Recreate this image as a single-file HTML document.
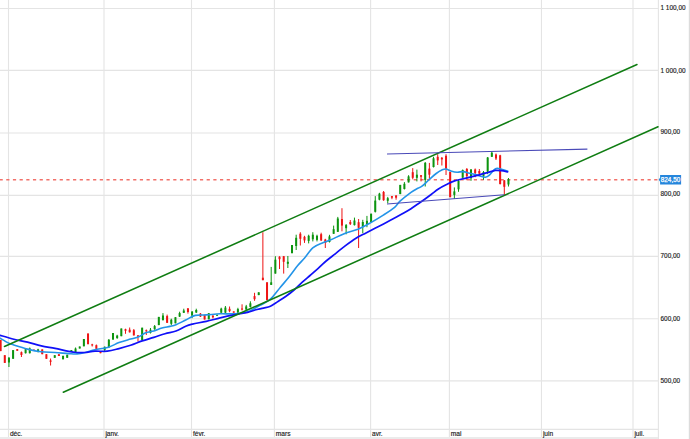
<!DOCTYPE html>
<html><head><meta charset="utf-8"><style>
html,body{margin:0;padding:0;background:#fff;}
svg{display:block;}
.ax{font-family:"Liberation Sans",sans-serif;font-size:6.6px;fill:#1a1a1a;stroke:#1a1a1a;stroke-width:0.15px;}
.ay{font-family:"Liberation Sans",sans-serif;font-size:6.45px;fill:#1a1a1a;stroke:#1a1a1a;stroke-width:0.15px;}
.pl{font-family:"Liberation Sans",sans-serif;font-size:6.6px;fill:#fff;stroke:#fff;stroke-width:0.25px;}
</style></head><body>
<svg width="690" height="439" viewBox="0 0 690 439">
<line x1="0" y1="8.5" x2="658" y2="8.5" stroke="#e4e4e4" stroke-width="1.1"/>
<line x1="0" y1="70.4" x2="658" y2="70.4" stroke="#e4e4e4" stroke-width="1.1"/>
<line x1="0" y1="133.0" x2="658" y2="133.0" stroke="#e4e4e4" stroke-width="1.1"/>
<line x1="0" y1="195.4" x2="658" y2="195.4" stroke="#e4e4e4" stroke-width="1.1"/>
<line x1="0" y1="256.4" x2="658" y2="256.4" stroke="#e4e4e4" stroke-width="1.1"/>
<line x1="0" y1="318.7" x2="658" y2="318.7" stroke="#e4e4e4" stroke-width="1.1"/>
<line x1="0" y1="380.9" x2="658" y2="380.9" stroke="#e4e4e4" stroke-width="1.1"/>
<line x1="8.5" y1="0" x2="8.5" y2="437" stroke="#e4e4e4" stroke-width="1.1"/>
<line x1="104.0" y1="0" x2="104.0" y2="437" stroke="#e4e4e4" stroke-width="1.1"/>
<line x1="191.5" y1="0" x2="191.5" y2="437" stroke="#e4e4e4" stroke-width="1.1"/>
<line x1="274.4" y1="0" x2="274.4" y2="437" stroke="#e4e4e4" stroke-width="1.1"/>
<line x1="370.6" y1="0" x2="370.6" y2="437" stroke="#e4e4e4" stroke-width="1.1"/>
<line x1="449.4" y1="0" x2="449.4" y2="437" stroke="#e4e4e4" stroke-width="1.1"/>
<line x1="541.45" y1="0" x2="541.45" y2="437" stroke="#e4e4e4" stroke-width="1.1"/>
<line x1="633.0" y1="0" x2="633.0" y2="437" stroke="#e4e4e4" stroke-width="1.1"/>
<line x1="658.4" y1="0" x2="658.4" y2="439" stroke="#e4e4e4" stroke-width="1.1"/>
<line x1="0" y1="429.4" x2="658" y2="429.4" stroke="#e4e4e4" stroke-width="1.1"/>
<rect x="0" y="437" width="658" height="2" fill="#ebebeb"/>
<line x1="689.4" y1="0" x2="689.4" y2="439" stroke="#dcdcdc" stroke-width="1.2"/>
<line x1="0" y1="179.7" x2="658" y2="179.7" stroke="#f2716a" stroke-width="1.45" stroke-dasharray="3.2 3.48" stroke-dashoffset="0.44"/>
<rect x="0.11" y="339.90" width="1" height="11.20" fill="#ee1414"/>
<rect x="-0.39" y="339.90" width="2" height="11.20" fill="#ee1414"/>
<rect x="4.27" y="355.20" width="1" height="7.70" fill="#ee1414"/>
<rect x="3.77" y="355.20" width="2" height="7.70" fill="#ee1414"/>
<rect x="8.44" y="357.00" width="1" height="10.00" fill="#0c940f"/>
<rect x="7.94" y="357.80" width="2" height="4.70" fill="#0c940f"/>
<rect x="12.60" y="350.10" width="1" height="8.70" fill="#0c940f"/>
<rect x="12.10" y="350.10" width="2" height="8.70" fill="#0c940f"/>
<rect x="16.76" y="349.10" width="1" height="1.70" fill="#ee1414"/>
<rect x="16.26" y="349.10" width="2" height="1.70" fill="#ee1414"/>
<rect x="20.93" y="351.50" width="1" height="5.50" fill="#ee1414"/>
<rect x="20.43" y="352.20" width="2" height="2.80" fill="#ee1414"/>
<rect x="25.09" y="348.50" width="1" height="5.00" fill="#0c940f"/>
<rect x="24.59" y="349.20" width="2" height="4.00" fill="#0c940f"/>
<rect x="29.25" y="347.50" width="1" height="6.00" fill="#0c940f"/>
<rect x="28.75" y="348.40" width="2" height="4.80" fill="#0c940f"/>
<rect x="33.41" y="349.60" width="1" height="1.40" fill="#ee1414"/>
<rect x="32.91" y="349.60" width="2" height="1.40" fill="#ee1414"/>
<rect x="37.58" y="348.80" width="1" height="3.60" fill="#0c940f"/>
<rect x="37.08" y="349.40" width="2" height="2.20" fill="#0c940f"/>
<rect x="41.74" y="349.40" width="1" height="4.80" fill="#ee1414"/>
<rect x="41.24" y="349.40" width="2" height="4.80" fill="#ee1414"/>
<rect x="45.90" y="354.20" width="1" height="4.60" fill="#ee1414"/>
<rect x="45.40" y="354.20" width="2" height="4.60" fill="#ee1414"/>
<rect x="50.07" y="358.50" width="1" height="7.00" fill="#ee1414"/>
<rect x="49.57" y="360.40" width="2" height="1.40" fill="#ee1414"/>
<rect x="54.23" y="355.20" width="1" height="2.60" fill="#0c940f"/>
<rect x="53.73" y="355.20" width="2" height="2.60" fill="#0c940f"/>
<rect x="58.39" y="354.20" width="1" height="1.80" fill="#ee1414"/>
<rect x="57.89" y="354.20" width="2" height="1.80" fill="#ee1414"/>
<rect x="62.55" y="355.80" width="1" height="3.50" fill="#0c940f"/>
<rect x="62.05" y="355.80" width="2" height="3.50" fill="#0c940f"/>
<rect x="66.72" y="354.70" width="1" height="3.10" fill="#0c940f"/>
<rect x="66.22" y="354.70" width="2" height="3.10" fill="#0c940f"/>
<rect x="70.88" y="350.10" width="1" height="1.80" fill="#0c940f"/>
<rect x="70.38" y="350.10" width="2" height="1.80" fill="#0c940f"/>
<rect x="75.04" y="347.50" width="1" height="5.00" fill="#0c940f"/>
<rect x="74.54" y="348.50" width="2" height="3.70" fill="#0c940f"/>
<rect x="79.21" y="346.50" width="1" height="2.00" fill="#0c940f"/>
<rect x="78.71" y="346.50" width="2" height="2.00" fill="#0c940f"/>
<rect x="83.37" y="339.00" width="1" height="7.30" fill="#0c940f"/>
<rect x="82.87" y="339.00" width="2" height="7.30" fill="#0c940f"/>
<rect x="87.53" y="333.50" width="1" height="10.70" fill="#ee1414"/>
<rect x="87.03" y="333.50" width="2" height="10.70" fill="#ee1414"/>
<rect x="91.69" y="343.80" width="1" height="2.70" fill="#ee1414"/>
<rect x="91.19" y="344.40" width="2" height="1.00" fill="#ee1414"/>
<rect x="95.86" y="344.50" width="1" height="4.80" fill="#ee1414"/>
<rect x="95.36" y="345.20" width="2" height="3.60" fill="#ee1414"/>
<rect x="100.02" y="351.90" width="1" height="1.30" fill="#ee1414"/>
<rect x="99.52" y="351.90" width="2" height="1.30" fill="#ee1414"/>
<rect x="104.18" y="346.50" width="1" height="4.50" fill="#0c940f"/>
<rect x="103.68" y="346.80" width="2" height="3.10" fill="#0c940f"/>
<rect x="108.34" y="339.00" width="1" height="8.80" fill="#0c940f"/>
<rect x="107.84" y="339.80" width="2" height="7.50" fill="#0c940f"/>
<rect x="112.51" y="333.00" width="1" height="6.60" fill="#0c940f"/>
<rect x="112.01" y="333.00" width="2" height="6.60" fill="#0c940f"/>
<rect x="116.67" y="334.80" width="1" height="4.00" fill="#0c940f"/>
<rect x="116.17" y="335.60" width="2" height="2.50" fill="#0c940f"/>
<rect x="120.83" y="328.50" width="1" height="7.70" fill="#0c940f"/>
<rect x="120.33" y="328.50" width="2" height="7.70" fill="#0c940f"/>
<rect x="125.00" y="328.70" width="1" height="5.10" fill="#ee1414"/>
<rect x="124.50" y="329.20" width="2" height="1.60" fill="#ee1414"/>
<rect x="129.16" y="327.50" width="1" height="5.00" fill="#ee1414"/>
<rect x="128.66" y="329.70" width="2" height="2.60" fill="#ee1414"/>
<rect x="133.32" y="329.00" width="1" height="6.50" fill="#ee1414"/>
<rect x="132.82" y="330.20" width="2" height="5.20" fill="#ee1414"/>
<rect x="137.48" y="335.00" width="1" height="6.50" fill="#ee1414"/>
<rect x="136.98" y="335.40" width="2" height="1.50" fill="#ee1414"/>
<rect x="141.65" y="327.70" width="1" height="12.30" fill="#0c940f"/>
<rect x="141.15" y="327.70" width="2" height="12.30" fill="#0c940f"/>
<rect x="145.81" y="329.50" width="1" height="5.50" fill="#ee1414"/>
<rect x="145.31" y="330.20" width="2" height="1.10" fill="#ee1414"/>
<rect x="149.97" y="328.00" width="1" height="5.50" fill="#0c940f"/>
<rect x="149.47" y="329.70" width="2" height="3.10" fill="#0c940f"/>
<rect x="154.14" y="325.00" width="1" height="4.80" fill="#0c940f"/>
<rect x="153.64" y="326.10" width="2" height="3.10" fill="#0c940f"/>
<rect x="158.30" y="316.90" width="1" height="8.20" fill="#0c940f"/>
<rect x="157.80" y="316.90" width="2" height="8.20" fill="#0c940f"/>
<rect x="162.46" y="313.10" width="1" height="7.40" fill="#0c940f"/>
<rect x="161.96" y="315.50" width="2" height="4.60" fill="#0c940f"/>
<rect x="166.62" y="314.60" width="1" height="8.40" fill="#ee1414"/>
<rect x="166.12" y="316.10" width="2" height="6.70" fill="#ee1414"/>
<rect x="170.79" y="318.70" width="1" height="6.70" fill="#0c940f"/>
<rect x="170.29" y="319.70" width="2" height="4.10" fill="#0c940f"/>
<rect x="174.95" y="317.20" width="1" height="6.10" fill="#0c940f"/>
<rect x="174.45" y="317.20" width="2" height="6.10" fill="#0c940f"/>
<rect x="179.11" y="311.70" width="1" height="5.30" fill="#0c940f"/>
<rect x="178.61" y="313.10" width="2" height="3.50" fill="#0c940f"/>
<rect x="183.28" y="308.70" width="1" height="4.30" fill="#0c940f"/>
<rect x="182.78" y="310.50" width="2" height="2.30" fill="#0c940f"/>
<rect x="187.44" y="308.00" width="1" height="5.60" fill="#ee1414"/>
<rect x="186.94" y="308.40" width="2" height="3.60" fill="#ee1414"/>
<rect x="191.60" y="311.00" width="1" height="7.20" fill="#0c940f"/>
<rect x="191.10" y="311.70" width="2" height="3.90" fill="#0c940f"/>
<rect x="195.76" y="308.70" width="1" height="4.30" fill="#0c940f"/>
<rect x="195.26" y="310.00" width="2" height="2.50" fill="#0c940f"/>
<rect x="199.93" y="313.00" width="1" height="4.00" fill="#ee1414"/>
<rect x="199.43" y="313.60" width="2" height="3.00" fill="#ee1414"/>
<rect x="204.09" y="314.90" width="1" height="4.60" fill="#ee1414"/>
<rect x="203.59" y="314.90" width="2" height="4.60" fill="#ee1414"/>
<rect x="208.25" y="313.20" width="1" height="6.10" fill="#0c940f"/>
<rect x="207.75" y="313.20" width="2" height="6.10" fill="#0c940f"/>
<rect x="212.41" y="315.00" width="1" height="3.50" fill="#ee1414"/>
<rect x="211.91" y="315.80" width="2" height="1.50" fill="#ee1414"/>
<rect x="216.58" y="314.70" width="1" height="1.10" fill="#0c940f"/>
<rect x="216.08" y="314.70" width="2" height="1.10" fill="#0c940f"/>
<rect x="220.74" y="307.70" width="1" height="5.30" fill="#0c940f"/>
<rect x="220.24" y="308.60" width="2" height="4.10" fill="#0c940f"/>
<rect x="224.90" y="306.00" width="1" height="7.00" fill="#0c940f"/>
<rect x="224.40" y="307.60" width="2" height="5.10" fill="#0c940f"/>
<rect x="229.07" y="306.50" width="1" height="5.70" fill="#ee1414"/>
<rect x="228.57" y="308.80" width="2" height="2.30" fill="#ee1414"/>
<rect x="233.23" y="311.40" width="1" height="1.30" fill="#ee1414"/>
<rect x="232.73" y="311.40" width="2" height="1.30" fill="#ee1414"/>
<rect x="237.39" y="307.80" width="1" height="5.20" fill="#0c940f"/>
<rect x="236.89" y="309.10" width="2" height="3.40" fill="#0c940f"/>
<rect x="241.55" y="304.30" width="1" height="6.20" fill="#ee1414"/>
<rect x="241.05" y="308.50" width="2" height="1.10" fill="#ee1414"/>
<rect x="245.72" y="304.90" width="1" height="5.10" fill="#0c940f"/>
<rect x="245.22" y="306.40" width="2" height="3.10" fill="#0c940f"/>
<rect x="249.88" y="301.30" width="1" height="6.20" fill="#0c940f"/>
<rect x="249.38" y="303.30" width="2" height="3.60" fill="#0c940f"/>
<rect x="254.04" y="292.80" width="1" height="8.00" fill="#ee1414"/>
<rect x="253.54" y="296.10" width="2" height="3.10" fill="#ee1414"/>
<rect x="258.21" y="292.30" width="1" height="2.80" fill="#0c940f"/>
<rect x="257.71" y="292.30" width="2" height="2.80" fill="#0c940f"/>
<rect x="262.37" y="232.20" width="1" height="48.00" fill="#ee1414"/>
<rect x="261.87" y="277.70" width="2" height="2.50" fill="#ee1414"/>
<rect x="266.53" y="282.30" width="1" height="17.90" fill="#ee1414"/>
<rect x="266.03" y="282.30" width="2" height="17.90" fill="#ee1414"/>
<rect x="270.69" y="266.90" width="1" height="18.00" fill="#0c940f"/>
<rect x="270.19" y="282.30" width="2" height="2.60" fill="#0c940f"/>
<rect x="274.86" y="256.20" width="1" height="17.40" fill="#0c940f"/>
<rect x="274.36" y="259.70" width="2" height="13.90" fill="#0c940f"/>
<rect x="279.02" y="256.20" width="1" height="12.80" fill="#ee1414"/>
<rect x="278.52" y="256.70" width="2" height="2.50" fill="#ee1414"/>
<rect x="283.18" y="256.00" width="1" height="17.60" fill="#ee1414"/>
<rect x="282.68" y="256.20" width="2" height="5.60" fill="#ee1414"/>
<rect x="287.35" y="256.00" width="1" height="12.00" fill="#0c940f"/>
<rect x="286.85" y="261.80" width="2" height="2.00" fill="#0c940f"/>
<rect x="291.51" y="245.00" width="1" height="8.20" fill="#0c940f"/>
<rect x="291.01" y="245.00" width="2" height="8.20" fill="#0c940f"/>
<rect x="295.67" y="234.70" width="1" height="15.30" fill="#0c940f"/>
<rect x="295.17" y="237.80" width="2" height="8.20" fill="#0c940f"/>
<rect x="299.83" y="232.20" width="1" height="13.30" fill="#ee1414"/>
<rect x="299.33" y="233.70" width="2" height="5.10" fill="#ee1414"/>
<rect x="304.00" y="235.80" width="1" height="7.10" fill="#ee1414"/>
<rect x="303.50" y="236.80" width="2" height="3.60" fill="#ee1414"/>
<rect x="308.16" y="234.70" width="1" height="8.70" fill="#0c940f"/>
<rect x="307.66" y="235.80" width="2" height="5.10" fill="#0c940f"/>
<rect x="312.32" y="232.20" width="1" height="9.20" fill="#0c940f"/>
<rect x="311.82" y="234.70" width="2" height="4.60" fill="#0c940f"/>
<rect x="316.48" y="234.70" width="1" height="6.70" fill="#0c940f"/>
<rect x="315.98" y="235.80" width="2" height="4.10" fill="#0c940f"/>
<rect x="320.65" y="232.70" width="1" height="8.30" fill="#ee1414"/>
<rect x="320.15" y="234.20" width="2" height="6.20" fill="#ee1414"/>
<rect x="324.81" y="238.80" width="1" height="9.20" fill="#ee1414"/>
<rect x="324.31" y="239.50" width="2" height="3.50" fill="#ee1414"/>
<rect x="328.97" y="234.80" width="1" height="7.70" fill="#0c940f"/>
<rect x="328.47" y="236.40" width="2" height="5.60" fill="#0c940f"/>
<rect x="333.14" y="225.60" width="1" height="8.40" fill="#0c940f"/>
<rect x="332.64" y="229.20" width="2" height="4.60" fill="#0c940f"/>
<rect x="337.30" y="216.90" width="1" height="15.10" fill="#0c940f"/>
<rect x="336.80" y="218.50" width="2" height="13.30" fill="#0c940f"/>
<rect x="341.46" y="208.20" width="1" height="23.10" fill="#ee1414"/>
<rect x="340.96" y="219.00" width="2" height="6.60" fill="#ee1414"/>
<rect x="345.62" y="224.00" width="1" height="10.30" fill="#0c940f"/>
<rect x="345.12" y="225.10" width="2" height="3.10" fill="#0c940f"/>
<rect x="349.79" y="220.00" width="1" height="5.00" fill="#ee1414"/>
<rect x="349.29" y="222.00" width="2" height="2.10" fill="#ee1414"/>
<rect x="353.95" y="217.60" width="1" height="7.90" fill="#0c940f"/>
<rect x="353.45" y="220.50" width="2" height="4.60" fill="#0c940f"/>
<rect x="358.11" y="219.00" width="1" height="29.00" fill="#ee1414"/>
<rect x="357.61" y="222.20" width="2" height="5.60" fill="#ee1414"/>
<rect x="362.28" y="219.80" width="1" height="13.40" fill="#0c940f"/>
<rect x="361.78" y="222.00" width="2" height="4.80" fill="#0c940f"/>
<rect x="366.44" y="215.90" width="1" height="11.30" fill="#0c940f"/>
<rect x="365.94" y="220.80" width="2" height="3.40" fill="#0c940f"/>
<rect x="370.60" y="213.50" width="1" height="9.00" fill="#0c940f"/>
<rect x="370.10" y="213.80" width="2" height="8.20" fill="#0c940f"/>
<rect x="374.76" y="196.10" width="1" height="16.40" fill="#0c940f"/>
<rect x="374.26" y="200.60" width="2" height="11.20" fill="#0c940f"/>
<rect x="378.93" y="192.80" width="1" height="7.50" fill="#0c940f"/>
<rect x="378.43" y="193.60" width="2" height="6.10" fill="#0c940f"/>
<rect x="383.09" y="191.00" width="1" height="9.80" fill="#ee1414"/>
<rect x="382.59" y="192.00" width="2" height="8.20" fill="#ee1414"/>
<rect x="387.25" y="196.90" width="1" height="6.40" fill="#0c940f"/>
<rect x="386.75" y="198.20" width="2" height="2.60" fill="#0c940f"/>
<rect x="391.42" y="196.00" width="1" height="3.20" fill="#ee1414"/>
<rect x="390.92" y="196.10" width="2" height="1.60" fill="#ee1414"/>
<rect x="395.58" y="195.00" width="1" height="4.70" fill="#ee1414"/>
<rect x="395.08" y="195.60" width="2" height="2.10" fill="#ee1414"/>
<rect x="399.74" y="184.90" width="1" height="9.20" fill="#0c940f"/>
<rect x="399.24" y="184.90" width="2" height="9.20" fill="#0c940f"/>
<rect x="403.90" y="182.10" width="1" height="7.40" fill="#0c940f"/>
<rect x="403.40" y="183.80" width="2" height="5.20" fill="#0c940f"/>
<rect x="408.07" y="175.20" width="1" height="7.30" fill="#0c940f"/>
<rect x="407.57" y="176.40" width="2" height="6.00" fill="#0c940f"/>
<rect x="412.23" y="168.10" width="1" height="11.20" fill="#ee1414"/>
<rect x="411.73" y="172.20" width="2" height="5.60" fill="#ee1414"/>
<rect x="416.39" y="169.60" width="1" height="11.80" fill="#0c940f"/>
<rect x="415.89" y="174.70" width="2" height="3.10" fill="#0c940f"/>
<rect x="420.55" y="175.00" width="1" height="6.40" fill="#ee1414"/>
<rect x="420.05" y="175.20" width="2" height="1.60" fill="#ee1414"/>
<rect x="424.72" y="162.00" width="1" height="24.50" fill="#0c940f"/>
<rect x="424.22" y="162.90" width="2" height="17.00" fill="#0c940f"/>
<rect x="428.88" y="162.90" width="1" height="15.90" fill="#ee1414"/>
<rect x="428.38" y="168.60" width="2" height="6.10" fill="#ee1414"/>
<rect x="433.04" y="156.80" width="1" height="10.70" fill="#0c940f"/>
<rect x="432.54" y="158.30" width="2" height="8.70" fill="#0c940f"/>
<rect x="437.21" y="154.20" width="1" height="10.80" fill="#ee1414"/>
<rect x="436.71" y="156.80" width="2" height="3.60" fill="#ee1414"/>
<rect x="441.37" y="157.00" width="1" height="8.50" fill="#ee1414"/>
<rect x="440.87" y="157.80" width="2" height="1.60" fill="#ee1414"/>
<rect x="445.53" y="154.20" width="1" height="20.80" fill="#ee1414"/>
<rect x="445.03" y="155.80" width="2" height="12.80" fill="#ee1414"/>
<rect x="449.69" y="172.00" width="1" height="25.20" fill="#ee1414"/>
<rect x="449.19" y="172.00" width="2" height="25.20" fill="#ee1414"/>
<rect x="453.86" y="187.40" width="1" height="11.60" fill="#0c940f"/>
<rect x="453.36" y="191.40" width="2" height="3.50" fill="#0c940f"/>
<rect x="458.02" y="180.00" width="1" height="11.80" fill="#0c940f"/>
<rect x="457.52" y="181.00" width="2" height="8.30" fill="#0c940f"/>
<rect x="462.18" y="169.50" width="1" height="8.30" fill="#0c940f"/>
<rect x="461.68" y="170.00" width="2" height="7.70" fill="#0c940f"/>
<rect x="466.35" y="168.00" width="1" height="12.20" fill="#ee1414"/>
<rect x="465.85" y="169.00" width="2" height="7.10" fill="#ee1414"/>
<rect x="470.51" y="169.00" width="1" height="11.80" fill="#0c940f"/>
<rect x="470.01" y="169.50" width="2" height="8.70" fill="#0c940f"/>
<rect x="474.67" y="168.50" width="1" height="8.70" fill="#ee1414"/>
<rect x="474.17" y="169.50" width="2" height="3.60" fill="#ee1414"/>
<rect x="478.83" y="169.00" width="1" height="6.60" fill="#ee1414"/>
<rect x="478.33" y="171.00" width="2" height="2.60" fill="#ee1414"/>
<rect x="483.00" y="171.00" width="1" height="8.80" fill="#0c940f"/>
<rect x="482.50" y="172.10" width="2" height="4.30" fill="#0c940f"/>
<rect x="487.16" y="157.00" width="1" height="17.10" fill="#0c940f"/>
<rect x="486.66" y="157.50" width="2" height="14.30" fill="#0c940f"/>
<rect x="491.32" y="151.20" width="1" height="5.80" fill="#0c940f"/>
<rect x="490.82" y="152.70" width="2" height="4.10" fill="#0c940f"/>
<rect x="495.49" y="153.50" width="1" height="6.50" fill="#ee1414"/>
<rect x="494.99" y="154.50" width="2" height="4.00" fill="#ee1414"/>
<rect x="499.65" y="154.80" width="1" height="29.70" fill="#ee1414"/>
<rect x="499.15" y="155.30" width="2" height="28.70" fill="#ee1414"/>
<rect x="503.81" y="180.00" width="1" height="14.90" fill="#ee1414"/>
<rect x="503.31" y="180.40" width="2" height="6.40" fill="#ee1414"/>
<rect x="507.97" y="178.00" width="1" height="8.50" fill="#0c940f"/>
<rect x="507.47" y="179.30" width="2" height="5.20" fill="#0c940f"/>
<path d="M0.00 338.10 C1.38 338.90 6.00 341.75 8.30 342.90 C10.60 344.05 10.60 343.97 13.80 345.00 C17.00 346.03 22.92 347.97 27.50 349.10 C32.08 350.23 36.70 351.23 41.30 351.80 C45.90 352.37 50.52 352.20 55.10 352.50 C59.68 352.80 65.13 353.37 68.80 353.60 C72.47 353.83 74.33 354.08 77.10 353.90 C79.87 353.72 82.42 353.18 85.40 352.50 C88.38 351.82 91.13 350.68 95.00 349.80 C98.87 348.92 104.60 348.40 108.60 347.20 C112.60 346.00 115.33 343.95 119.00 342.60 C122.67 341.25 127.32 340.07 130.60 339.10 C133.88 338.13 136.18 337.85 138.70 336.80 C141.22 335.75 143.18 333.77 145.70 332.80 C148.22 331.83 151.10 331.78 153.80 331.00 C156.50 330.22 159.20 328.87 161.90 328.10 C164.60 327.33 167.65 326.95 170.00 326.40 C172.35 325.85 173.38 325.87 176.00 324.80 C178.62 323.73 182.48 321.57 185.70 320.00 C188.92 318.43 191.87 316.25 195.30 315.40 C198.73 314.55 202.17 315.17 206.30 314.90 C210.43 314.63 215.52 313.98 220.10 313.80 C224.68 313.62 229.22 314.15 233.80 313.80 C238.38 313.45 243.23 313.12 247.60 311.70 C251.97 310.28 256.20 307.38 260.00 305.30 C263.80 303.22 266.97 302.25 270.40 299.20 C273.83 296.15 277.47 290.73 280.60 287.00 C283.73 283.27 286.35 280.37 289.20 276.80 C292.05 273.23 295.13 268.73 297.70 265.60 C300.27 262.47 302.03 260.98 304.60 258.00 C307.17 255.02 309.97 250.27 313.10 247.70 C316.23 245.13 320.55 243.88 323.40 242.60 C326.25 241.32 326.35 241.63 330.20 240.00 C334.05 238.37 341.88 234.58 346.50 232.80 C351.12 231.02 353.98 230.92 357.90 229.30 C361.82 227.68 365.70 225.50 370.00 223.10 C374.30 220.70 379.60 217.52 383.70 214.90 C387.80 212.28 391.88 209.68 394.60 207.40 C397.32 205.12 397.27 203.72 400.00 201.20 C402.73 198.68 408.02 194.47 411.00 192.30 C413.98 190.13 416.07 189.22 417.90 188.20 C419.73 187.18 420.18 187.57 422.00 186.20 C423.82 184.83 426.43 182.12 428.80 180.00 C431.17 177.88 433.95 175.20 436.20 173.50 C438.45 171.80 440.67 170.55 442.30 169.80 C443.93 169.05 444.57 168.82 446.00 169.00 C447.43 169.18 449.05 170.37 450.90 170.90 C452.75 171.43 455.03 172.08 457.10 172.20 C459.17 172.32 461.25 171.43 463.30 171.60 C465.35 171.77 467.35 172.72 469.40 173.20 C471.45 173.68 473.55 173.93 475.60 174.50 C477.65 175.07 480.07 176.15 481.70 176.60 C483.33 177.05 484.17 177.42 485.40 177.20 C486.63 176.98 487.67 176.53 489.10 175.30 C490.53 174.07 492.67 170.97 494.00 169.80 C495.33 168.63 495.87 168.40 497.10 168.30 C498.33 168.20 499.65 168.75 501.40 169.20 C503.15 169.65 506.57 170.70 507.60 171.00" fill="none" stroke="#2394e8" stroke-width="1.6" stroke-linecap="round" stroke-linejoin="round"/>
<path d="M0.00 335.30 C2.30 335.97 9.22 338.15 13.80 339.30 C18.38 340.45 22.92 341.12 27.50 342.20 C32.08 343.28 36.70 344.77 41.30 345.80 C45.90 346.83 50.52 347.47 55.10 348.40 C59.68 349.33 65.15 350.72 68.80 351.40 C72.45 352.08 74.30 352.32 77.00 352.50 C79.70 352.68 82.00 352.72 85.00 352.50 C88.00 352.28 91.27 351.42 95.00 351.20 C98.73 350.98 103.40 351.63 107.40 351.20 C111.40 350.77 115.13 349.58 119.00 348.60 C122.87 347.62 126.73 346.58 130.60 345.30 C134.47 344.02 138.33 342.22 142.20 340.90 C146.07 339.58 150.00 338.60 153.80 337.40 C157.60 336.20 161.30 334.77 165.00 333.70 C168.70 332.63 172.55 332.25 176.00 331.00 C179.45 329.75 182.95 327.35 185.70 326.20 C188.45 325.05 189.07 324.92 192.50 324.10 C195.93 323.28 201.70 322.33 206.30 321.30 C210.90 320.27 215.52 318.97 220.10 317.90 C224.68 316.83 229.22 315.82 233.80 314.90 C238.38 313.98 244.07 313.22 247.60 312.40 C251.13 311.58 252.35 310.72 255.00 310.00 C257.65 309.28 260.93 308.73 263.50 308.10 C266.07 307.47 267.98 307.30 270.40 306.20 C272.82 305.10 275.40 303.15 278.00 301.50 C280.60 299.85 283.33 298.22 286.00 296.30 C288.67 294.38 291.33 292.32 294.00 290.00 C296.67 287.68 299.33 284.82 302.00 282.40 C304.67 279.98 307.30 277.83 310.00 275.50 C312.70 273.17 315.70 270.65 318.20 268.40 C320.70 266.15 322.16 264.43 325.00 262.00 C327.84 259.57 331.83 256.53 335.25 253.80 C338.67 251.07 342.04 248.20 345.50 245.60 C348.96 243.00 352.58 240.30 356.00 238.20 C359.42 236.10 362.83 234.65 366.00 233.00 C369.17 231.35 372.00 229.85 375.00 228.30 C378.00 226.75 380.27 225.65 384.00 223.70 C387.73 221.75 394.03 218.42 397.40 216.60 C400.77 214.78 401.93 214.12 404.20 212.80 C406.47 211.48 408.72 210.17 411.00 208.70 C413.28 207.23 415.62 205.58 417.90 204.00 C420.18 202.42 422.43 200.83 424.70 199.20 C426.97 197.57 429.22 195.90 431.50 194.20 C433.78 192.50 435.98 190.57 438.40 189.00 C440.82 187.43 443.30 186.15 446.00 184.80 C448.70 183.45 451.10 182.07 454.60 180.90 C458.10 179.73 462.88 178.82 467.00 177.80 C471.12 176.78 475.82 175.68 479.30 174.80 C482.78 173.92 485.23 173.23 487.90 172.50 C490.57 171.77 493.05 170.72 495.30 170.40 C497.55 170.08 499.35 170.35 501.40 170.60 C503.45 170.85 506.57 171.68 507.60 171.90" fill="none" stroke="#1010f8" stroke-width="1.7" stroke-linecap="round" stroke-linejoin="round"/>
<line x1="4.5" y1="346.5" x2="637" y2="64.5" stroke="#0f7d12" stroke-width="1.55" stroke-linecap="round"/>
<line x1="63.3" y1="392.2" x2="658" y2="126.8" stroke="#0f7d12" stroke-width="1.55" stroke-linecap="round"/>
<line x1="387" y1="154" x2="587.4" y2="149.1" stroke="#4a4ab8" stroke-width="1.1"/>
<line x1="387" y1="204" x2="504.3" y2="194.8" stroke="#4a4ab8" stroke-width="1.1"/>
<path d="M658.7 179.7 L660.1 177.6 V174.9 H681.1 V184.5 H660.1 V181.8 Z" fill="#2586dc"/>
<text x="660.5" y="10" class="ay">1 100,00</text>
<text x="660.5" y="73" class="ay">1 000,00</text>
<text x="660.5" y="134" class="ay">900,00</text>
<text x="660.5" y="196" class="ay">800,00</text>
<text x="660.5" y="258" class="ay">700,00</text>
<text x="660.5" y="321" class="ay">600,00</text>
<text x="660.5" y="383" class="ay">500,00</text>
<text x="9.9" y="435.8" class="ax">déc.</text>
<text x="105.4" y="435.8" class="ax">janv.</text>
<text x="192.9" y="435.8" class="ax">févr.</text>
<text x="275.8" y="435.8" class="ax">mars</text>
<text x="372.0" y="435.8" class="ax">avr.</text>
<text x="450.8" y="435.8" class="ax">mai</text>
<text x="542.9" y="435.8" class="ax">juin</text>
<text x="634.4" y="435.8" class="ax">juil.</text>
<text x="660.8" y="182.2" class="pl" textLength="19.4" lengthAdjust="spacingAndGlyphs">824,50</text>
</svg>
</body></html>
